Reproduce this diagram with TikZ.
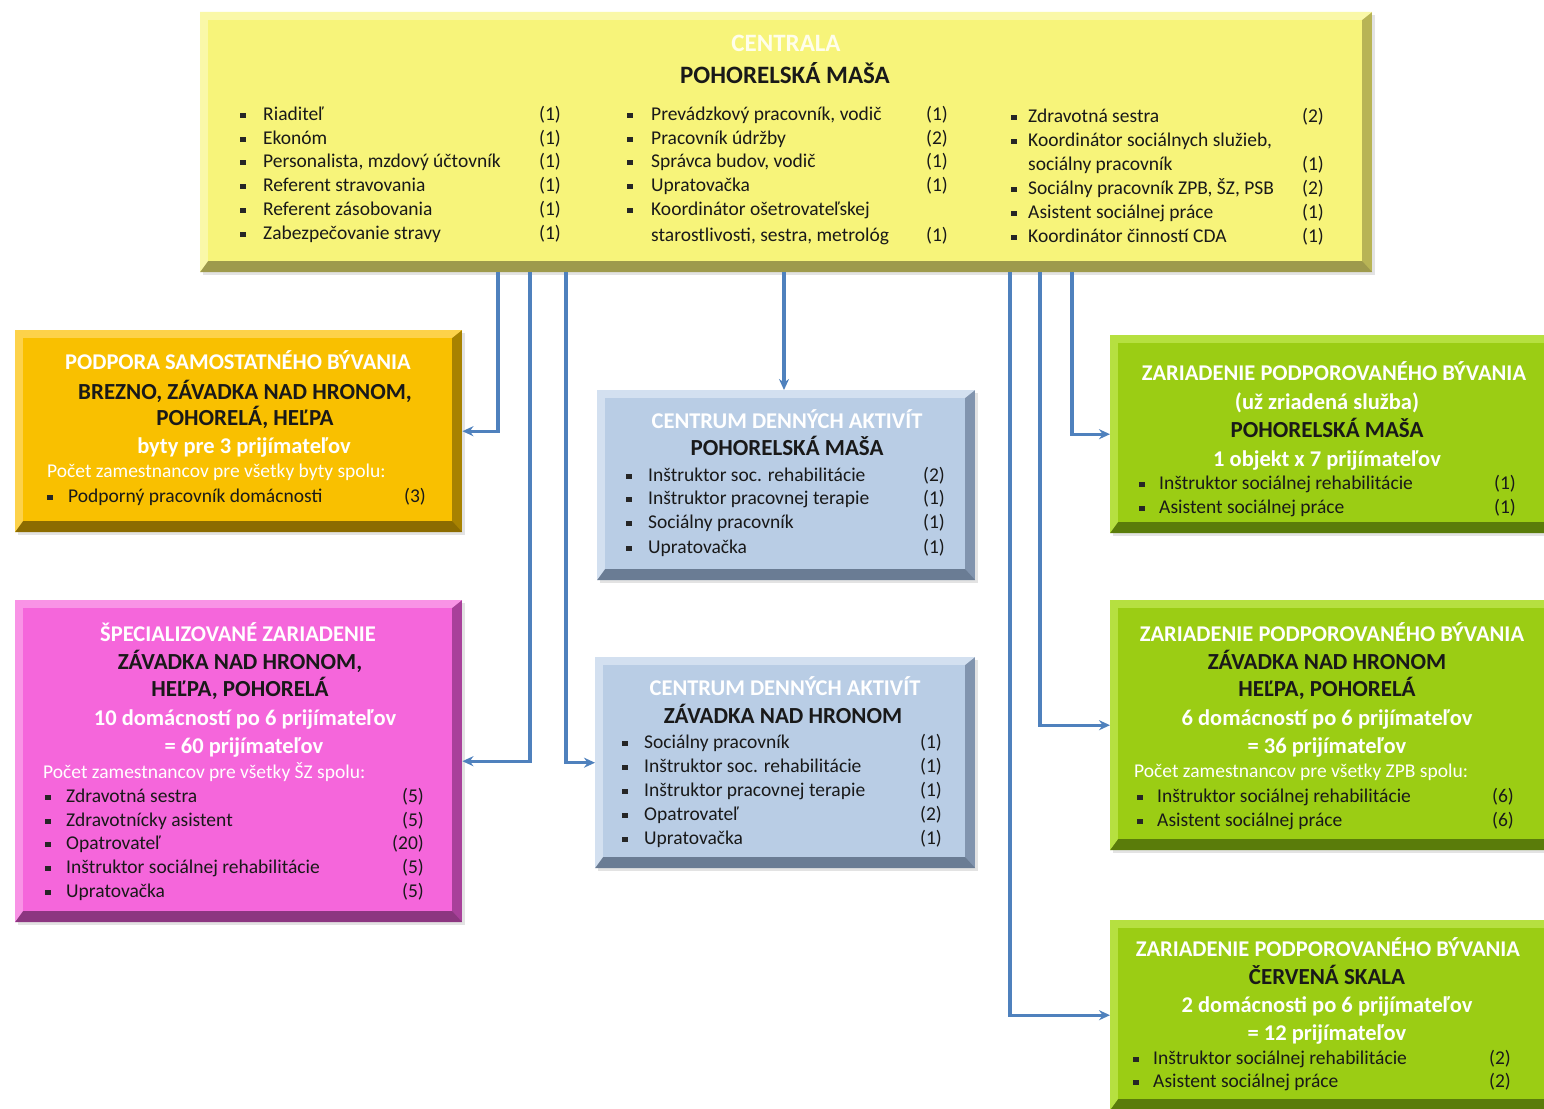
\documentclass[tikz,border=0pt]{standalone}
\usepackage{fontspec}
\setmainfont{Carlito}
\usetikzlibrary{arrows.meta,shadows}
\definecolor{yM}{HTML}{F7F47A}\definecolor{yL}{HTML}{FAF8A8}\definecolor{yR}{HTML}{B8B455}\definecolor{yB}{HTML}{9E9A4C}
\definecolor{oM}{HTML}{F9C000}\definecolor{oL}{HTML}{FDD24A}\definecolor{oR}{HTML}{A88200}\definecolor{oB}{HTML}{8C6C00}
\definecolor{pM}{HTML}{F566DB}\definecolor{pL}{HTML}{F993E6}\definecolor{pR}{HTML}{A8409A}\definecolor{pB}{HTML}{8C3680}
\definecolor{bM}{HTML}{B9CDE5}\definecolor{bL}{HTML}{D3E0F0}\definecolor{bR}{HTML}{8194AE}\definecolor{bB}{HTML}{6A7C94}
\definecolor{gM}{HTML}{9BCD14}\definecolor{gL}{HTML}{B6E040}\definecolor{gR}{HTML}{6C940C}\definecolor{gB}{HTML}{5A7C0A}
\definecolor{conn}{HTML}{4F81BD}
\tikzset{
  itm/.style={font=\fontsize{19.5}{23}\selectfont, inner sep=0pt, text=black!90},
  ttl/.style={font=\fontsize{23}{27}\selectfont\bfseries, inner sep=0pt, text=black!90},
  wht/.style={font=\fontsize{22.5}{27}\selectfont\bfseries, inner sep=0pt, text=white},
  whn/.style={font=\fontsize{19.5}{23}\selectfont, inner sep=0pt, text=white},
  cn/.style={draw=conn, line width=3.2pt, -{Stealth[length=11pt,width=10pt]}},
}
\newcommand\bevbox[6]{%
  \node[fill=#6R, inner sep=0pt, anchor=north west, minimum width={#4-#2}, minimum height={#5-#3},
        drop shadow={opacity=0.22, shadow xshift=3pt, shadow yshift=-3pt}] (#1) at (#2,#3) {};
  \fill[#6B] (#2,#5) -- (#4,#5) -- ({#4-10},{#5-11}) -- ({#2+8},{#5-11}) -- cycle;
  \fill[#6L] (#2,#3) -- (#4,#3) -- ({#4-10},{#3+8}) -- ({#2+8},{#3+8}) -- ({#2+8},{#5-11}) -- (#2,#5) -- cycle;
  \fill[#6M] ({#2+8},{#3+8}) rectangle ({#4-10},{#5-11});
}
\newcommand\li[7]{%
  \fill[black!85] ({#2-2.75},{#5-1.5}) rectangle ({#2+2.75},{#5+4});
  \node[itm, anchor=base west] (#1) at (#3,{#5+6}) {#6};
  \node[itm, anchor=base east] (#1c) at (#4,{#5+6}) {#7};
}
\newcommand\ttl[5]{\node[#4, anchor=base] (#1) at (#2,{#3+7.5}) {#5};}
\begin{document}
\begin{tikzpicture}[x=1pt,y=-1pt]
\useasboundingbox (0,0) rectangle (1544,1108);
\fill[white] (0,0) rectangle (1544,1108);

% ---------- boxes ----------
\bevbox{top}{200}{12}{1372}{272}{y}
\bevbox{orange}{15}{330}{462}{532}{o}
\bevbox{pink}{15}{600}{462}{922}{p}
\bevbox{cda1}{597}{390}{975}{580}{b}
\bevbox{cda2}{595}{657}{975}{868}{b}
\bevbox{g1}{1110}{335}{1554}{533}{g}
\bevbox{g2}{1110}{600}{1554}{850}{g}
\bevbox{g3}{1110}{920}{1554}{1110}{g}

% ---------- top box ----------
\node[wht, font=\fontsize{25}{29}\selectfont\bfseries, text=white!92!yellow, anchor=base] (topA) at (786,52) {CENTRALA};
\node[ttl, font=\fontsize{25}{29}\selectfont\bfseries, anchor=base] (topB) at (785,84) {POHORELSKÁ MAŠA};
\li{t1}{243}{263}{561}{114}{Riaditeľ}{(1)}
\li{t2}{243}{263}{561}{138}{Ekonóm}{(1)}
\li{t3}{243}{263}{561}{161}{Personalista, mzdový účtovník}{(1)}
\li{t4}{243}{263}{561}{185}{Referent stravovania}{(1)}
\li{t5}{243}{263}{561}{209}{Referent zásobovania}{(1)}
\li{t6}{243}{263}{561}{233}{Zabezpečovanie stravy}{(1)}
\li{u1}{630}{651}{948}{114}{Prevádzkový pracovník, vodič}{(1)}
\li{u2}{630}{651}{948}{138}{Pracovník údržby}{(2)}
\li{u3}{630}{651}{948}{161}{Správca budov, vodič}{(1)}
\li{u4}{630}{651}{948}{185}{Upratovačka}{(1)}
\fill[black!85] (627.25,207.5) rectangle (632.75,213);
\node[itm, anchor=base west] (u5) at (651,215) {Koordinátor ošetrovateľskej};
\node[itm, anchor=base west] (u6) at (651,241) {starostlivosti, sestra, metrológ};
\node[itm, anchor=base east] (u6c) at (948,241) {(1)};
\li{v1}{1014}{1028}{1324}{116}{Zdravotná sestra}{(2)}
\fill[black!85] (1011.25,138.5) rectangle (1016.75,144);
\node[itm, anchor=base west] (v2) at (1028,146) {Koordinátor sociálnych služieb,};
\node[itm, anchor=base west] (v3) at (1028,170) {sociálny pracovník};
\node[itm, anchor=base east] (v3c) at (1324,170) {(1)};
\li{v4}{1014}{1028}{1324}{188}{Sociálny pracovník ZPB, ŠZ, PSB}{(2)}
\li{v5}{1014}{1028}{1324}{212}{Asistent sociálnej práce}{(1)}
\li{v6}{1014}{1028}{1324}{236}{Koordinátor činností CDA}{(1)}

% ---------- orange ----------
\ttl{o1}{238}{362}{wht}{PODPORA SAMOSTATNÉHO BÝVANIA}
\ttl{o2}{245}{392}{ttl}{BREZNO, ZÁVADKA NAD HRONOM,}
\ttl{o3}{245}{418}{ttl}{POHORELÁ, HEĽPA}
\ttl{o4}{244}{446}{wht}{byty pre 3 prijímateľov}
\node[whn, anchor=base west] (o5) at (47,477) {Počet zamestnancov pre všetky byty spolu:};
\li{o6}{50}{68}{426}{496}{Podporný pracovník domácnosti}{(3)}

% ---------- pink ----------
\ttl{p1}{238}{634}{wht}{ŠPECIALIZOVANÉ ZARIADENIE}
\ttl{p2}{240}{662}{ttl}{ZÁVADKA NAD HRONOM,}
\ttl{p3}{240}{689}{ttl}{HEĽPA, POHORELÁ}
\ttl{p4}{245}{718}{wht}{10 domácností po 6 prijímateľov}
\ttl{p5}{244}{746}{wht}{= 60 prijímateľov}
\node[whn, anchor=base west] (p6) at (43,778) {Počet zamestnancov pre všetky ŠZ spolu:};
\li{p7}{48}{66}{424}{796}{Zdravotná sestra}{(5)}
\li{p8}{48}{66}{424}{820}{Zdravotnícky asistent}{(5)}
\li{p9}{48}{66}{424}{843}{Opatrovateľ}{(20)}
\li{p10}{48}{66}{424}{867}{Inštruktor sociálnej rehabilitácie}{(5)}
\li{p11}{48}{66}{424}{891}{Upratovačka}{(5)}

% ---------- CDA 1 ----------
\ttl{c1}{787}{421}{wht}{CENTRUM DENNÝCH AKTIVÍT}
\ttl{c2}{787}{448}{ttl}{POHORELSKÁ MAŠA}
\li{c3}{629}{648}{945}{475}{Inštruktor soc. rehabilitácie}{(2)}
\li{c4}{629}{648}{945}{498}{Inštruktor pracovnej terapie}{(1)}
\li{c5}{629}{648}{945}{522}{Sociálny pracovník}{(1)}
\li{c6}{629}{648}{945}{547}{Upratovačka}{(1)}

% ---------- CDA 2 ----------
\ttl{d1}{785}{688}{wht}{CENTRUM DENNÝCH AKTIVÍT}
\ttl{d2}{783}{716}{ttl}{ZÁVADKA NAD HRONOM}
\li{d3}{625}{644}{942}{742}{Sociálny pracovník}{(1)}
\li{d4}{625}{644}{942}{766}{Inštruktor soc. rehabilitácie}{(1)}
\li{d5}{625}{644}{942}{790}{Inštruktor pracovnej terapie}{(1)}
\li{d6}{625}{644}{942}{814}{Opatrovateľ}{(2)}
\li{d7}{625}{644}{942}{838}{Upratovačka}{(1)}

% ---------- green 1 ----------
\ttl{e1}{1334}{373}{wht}{ZARIADENIE PODPOROVANÉHO BÝVANIA}
\ttl{e2}{1327}{402}{wht}{(už zriadená služba)}
\ttl{e3}{1327}{430}{ttl}{POHORELSKÁ MAŠA}
\ttl{e4}{1327}{459}{wht}{1 objekt x 7 prijímateľov}
\li{e5}{1142}{1159}{1516}{483}{Inštruktor sociálnej rehabilitácie}{(1)}
\li{e6}{1142}{1159}{1516}{507}{Asistent sociálnej práce}{(1)}

% ---------- green 2 ----------
\ttl{f1}{1332}{634}{wht}{ZARIADENIE PODPOROVANÉHO BÝVANIA}
\ttl{f2}{1327}{662}{ttl}{ZÁVADKA NAD HRONOM}
\ttl{f3}{1327}{689}{ttl}{HEĽPA, POHORELÁ}
\ttl{f4}{1327}{718}{wht}{6 domácností po 6 prijímateľov}
\ttl{f5}{1327}{746}{wht}{= 36 prijímateľov}
\node[whn, anchor=base west] (f6) at (1134,777) {Počet zamestnancov pre všetky ZPB spolu:};
\li{f7}{1140}{1157}{1514}{796}{Inštruktor sociálnej rehabilitácie}{(6)}
\li{f8}{1140}{1157}{1514}{820}{Asistent sociálnej práce}{(6)}

% ---------- green 3 ----------
\ttl{h1}{1328}{949}{wht}{ZARIADENIE PODPOROVANÉHO BÝVANIA}
\ttl{h2}{1327}{977}{ttl}{ČERVENÁ SKALA}
\ttl{h3}{1327}{1005}{wht}{2 domácnosti po 6 prijímateľov}
\ttl{h4}{1327}{1033}{wht}{= 12 prijímateľov}
\li{h5}{1136}{1153}{1511}{1058}{Inštruktor sociálnej rehabilitácie}{(2)}
\li{h6}{1136}{1153}{1511}{1081}{Asistent sociálnej práce}{(2)}

% ---------- connectors ----------
\coordinate (s1) at (498,272);
\coordinate (s2) at (530,272);
\coordinate (s3) at (566,272);
\coordinate (s4) at (784,272);
\coordinate (s5) at (1010,272);
\coordinate (s6) at (1040,272);
\coordinate (s7) at (1072,272);
\draw[cn] (s1) |- (orange.east);
\draw[cn] (s2) |- (pink.east);
\draw[cn] (s3) |- (cda2.west);
\draw[cn] (s4) -- (s4 |- cda1.north);
\draw[cn] (s5) |- (g3.west);
\draw[cn] (s6) |- (g2.west);
\draw[cn] (s7) |- (g1.west);
\end{tikzpicture}
\end{document}
